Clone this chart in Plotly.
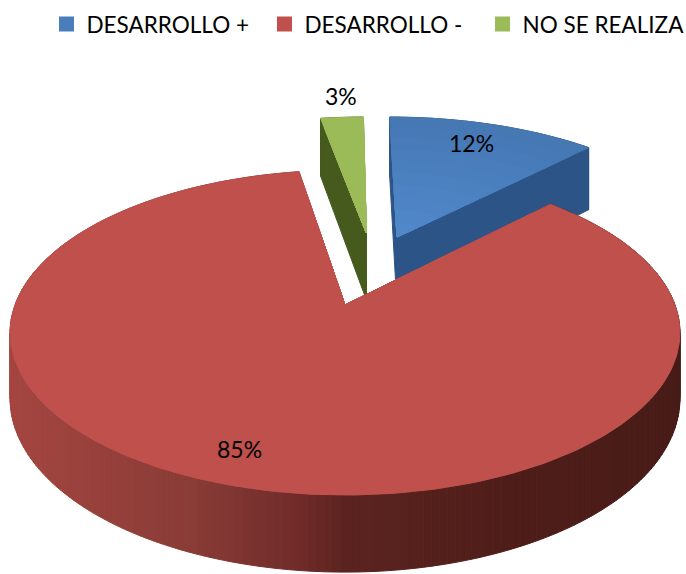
import numpy as np
import plotly.graph_objects as go

# data
labels = ["DESARROLLO +", "DESARROLLO -", "NO SE REALIZA"]
values = [12.3, 85.1, 2.6]

# slice looks
top_colors = ["#4a7ebb", "#c0504d", "#9bbb59"]
cut_colors = ["#2c5486", "#7a2f2c", "#465a1e"]
# top face shade at the rim and at the centre
rim_colors = [(70, 120, 180), (191, 80, 76), (155, 187, 89)]
center_colors = [(82, 138, 205), (192, 80, 77), (155, 187, 89)]
# wall colour from left to right of the picture
wall_stops = {
    0: [(390, (44, 84, 134)), (590, (40, 78, 126))],
    1: [(10, (165, 70, 65)), (190, (138, 60, 55)), (300, (112, 44, 42)),
        (345, (92, 36, 32)), (500, (80, 30, 26)), (680, (72, 28, 24))],
    2: [(320, (70, 90, 30)), (365, (70, 90, 30))],
}

# pie placement on the page
cx, cy = 345, 305
rx, ry = 330, 157.7
persp = 0.17
depth = 64
# how far each slice is pulled out, in pie radii, and its own radius and depth scale
pull_u = [0.17, 0.0, 0.07]
pull_v = [0.465, 0.0, 0.495]
radius_scale = [1.03, 1.0, 1.0]
depth_scale = [1.17, 1.0, 1.13]

# a bit wider than the window so plotly does not push the legend to the left
fig_width = 720
fig_height = 574


def project(u, v, drop=0.0):
    w = 1 / (1 + persp * v)
    return cx + rx * u * w, cy - ry * v * w + drop * w


def mix_color(stops, x):
    xs = [s[0] for s in stops]
    rgb = [np.interp(x, xs, [s[1][i] for s in stops]) for i in range(3)]
    return "rgb(%d,%d,%d)" % tuple(rgb)


def add_poly(fig, xs, ys, color):
    fig.add_trace(go.Scatter(x=xs, y=ys, mode="lines", fill="toself", fillcolor=color,
                             line=dict(color=color, width=1), hoverinfo="skip",
                             showlegend=False))


fig = go.Figure()

# angles clockwise from north
ends = np.cumsum(values) / sum(values) * 2 * np.pi
starts = np.concatenate([[0], ends[:-1]])

# back slices first, the big red one goes over them
for i in [2, 0, 1]:
    t = np.linspace(starts[i], ends[i], max(6, int(values[i] * 3)))
    u0, v0 = pull_u[i], pull_v[i]
    u = u0 + radius_scale[i] * np.sin(t)
    v = v0 + radius_scale[i] * np.cos(t)
    d = depth * depth_scale[i]

    # outer wall, one thin strip at a time so the shade can change
    for k in range(len(t) - 1):
        x1, y1 = project(u[k], v[k])
        x2, y2 = project(u[k + 1], v[k + 1])
        x3, y3 = project(u[k + 1], v[k + 1], d)
        x4, y4 = project(u[k], v[k], d)
        add_poly(fig, [x1, x2, x3, x4, x1], [y1, y2, y3, y4, y1],
                 mix_color(wall_stops[i], (x1 + x2) / 2))

    # cut faces from the centre out to both rims
    for j in [0, -1]:
        ax, ay = project(u0, v0)
        bx, by = project(u[j], v[j])
        cx2, cy2 = project(u[j], v[j], d)
        dx, dy = project(u0, v0, d)
        add_poly(fig, [ax, bx, cx2, dx, ax], [ay, by, cy2, dy, ay], cut_colors[i])

    # top face, nested wedges from rim to centre
    for s in np.linspace(1, 0.1, 10):
        su = u0 + s * (u - u0)
        sv = v0 + s * (v - v0)
        px, py = project(np.concatenate([[u0], su, [u0]]), np.concatenate([[v0], sv, [v0]]))
        add_poly(fig, px, py, mix_color([(0, center_colors[i]), (1, rim_colors[i])], s))

# legend entries only
for name, color in zip(labels, top_colors):
    fig.add_trace(go.Scatter(x=[None], y=[None], mode="markers", name=name,
                             marker=dict(symbol="square", size=15, color=color)))

# percent labels
label_pos = [(471, 143), (239, 449), (341, 96)]
for val, (lx, ly) in zip(values, label_pos):
    fig.add_annotation(x=lx, y=ly, text="%d%%" % round(val), showarrow=False,
                       font=dict(family="Lato", size=23, color="black"))

fig.update_layout(
    width=fig_width,
    height=fig_height,
    margin=dict(l=0, r=0, t=0, b=0),
    paper_bgcolor="white",
    plot_bgcolor="white",
    font=dict(family="Lato", color="black"),
    showlegend=True,
    legend=dict(orientation="h", x=46.5 / fig_width, y=0.995, xanchor="left", yanchor="top",
                entrywidth=173, entrywidthmode="pixels", itemwidth=30,
                font=dict(family="Lato", size=22.5), bgcolor="rgba(0,0,0,0)"),
    xaxis=dict(range=[0, fig_width], visible=False, fixedrange=True),
    yaxis=dict(range=[fig_height, 0], visible=False, fixedrange=True),
)

# drop the default body margin so the axes run in page pixels
fig.write_html("out.html", config=dict(displayModeBar=False),
               post_script="document.body.style.margin='0';")
